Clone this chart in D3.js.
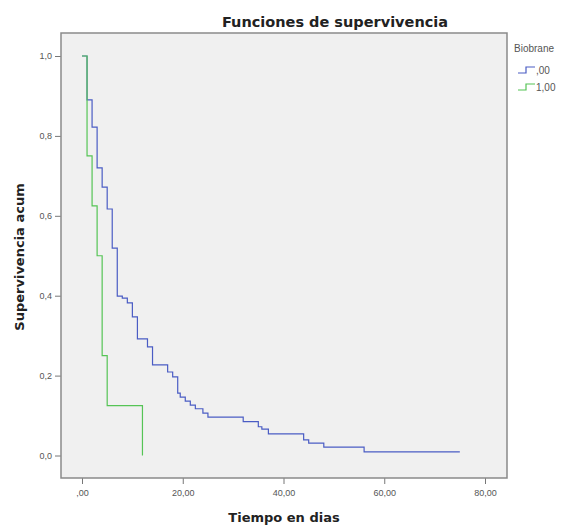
<!DOCTYPE html>
<html>
<head>
<meta charset="utf-8">
<script src="https://cdn.jsdelivr.net/npm/d3@7"></script>
<style>
  body { margin: 0; background: #fff; }
  svg { display: block; font-family: "Liberation Sans", Arial, sans-serif; }
  .tick text { fill: #555; font-size: 9px; }
  .tick line { stroke: #777; }
  .title { font-family: "DejaVu Sans", Verdana, sans-serif; font-weight: bold; fill: #222; }
</style>
</head>
<body>
<div id="chart"></div>
<script>
// Kaplan-Meier curves
const groups = [",00", "1,00"];
const colors = ["#4a5cc4", "#55c455"];

const blueTimes = [0, 1, 2, 3, 4, 5, 6, 7, 8, 9, 10, 11, 13, 14, 17, 18, 19, 19.5, 20.5, 21.5, 22.5, 24, 25, 32, 35, 35.7, 37, 44, 45, 48, 56, 75];
const blueSurv  = [1, 0.890, 0.822, 0.720, 0.672, 0.617, 0.519, 0.399, 0.394, 0.382, 0.347, 0.292, 0.272, 0.227, 0.209, 0.197, 0.156, 0.146, 0.136, 0.126, 0.117, 0.106, 0.096, 0.085, 0.072, 0.066, 0.054, 0.039, 0.031, 0.021, 0.009, 0.009];

const greenTimes = [0, 1, 2, 3, 4, 5, 12];
const greenSurv  = [1, 0.75, 0.625, 0.5, 0.25, 0.125, 0];

const xTicks = [0, 20, 40, 60, 80];
const xTickLabels = [",00", "20,00", "40,00", "60,00", "80,00"];
const yTicks = [0, 0.2, 0.4, 0.6, 0.8, 1];
const yTickLabels = ["0,0", "0,2", "0,4", "0,6", "0,8", "1,0"];

const W = 572, H = 526;
const frame = { left: 61, right: 507, top: 33, bottom: 478 };

const svg = d3.select("#chart").append("svg").attr("width", W).attr("height", H);

const x = d3.scaleLinear().domain([0, 80]).range([82, 485]);
const y = d3.scaleLinear().domain([0, 1]).range([455.5, 56]);

// plot background
svg.append("rect")
    .attr("x", frame.left).attr("y", frame.top)
    .attr("width", frame.right - frame.left).attr("height", frame.bottom - frame.top)
    .attr("fill", "#f0f0f0");

// axes (ticks only, frame drawn after)
svg.append("g")
    .attr("transform", `translate(0,${frame.bottom})`)
    .call(d3.axisBottom(x).tickValues(xTicks).tickSize(6).tickPadding(6)
        .tickFormat((d, i) => xTickLabels[i]))
    .call(g => g.select(".domain").remove());

svg.append("g")
    .attr("transform", `translate(${frame.left},0)`)
    .call(d3.axisLeft(y).tickValues(yTicks).tickSize(6).tickPadding(3)
        .tickFormat((d, i) => yTickLabels[i]))
    .call(g => g.select(".domain").remove());

svg.append("rect")
    .attr("x", frame.left).attr("y", frame.top)
    .attr("width", frame.right - frame.left).attr("height", frame.bottom - frame.top)
    .attr("fill", "none").attr("stroke", "#8a8a8a").attr("stroke-width", 1.5);

// survival curves
const line = d3.line()
    .x(d => x(d[0]))
    .y(d => y(d[1]))
    .curve(d3.curveStepAfter);

const series = [
    d3.zip(blueTimes, blueSurv),
    d3.zip(greenTimes, greenSurv)
];

svg.append("g").selectAll("path")
    .data(series)
    .join("path")
    .attr("d", line)
    .attr("fill", "none")
    .attr("stroke", (d, i) => colors[i])
    .attr("stroke-width", 1.2);

// titles
svg.append("text").attr("class", "title")
    .attr("x", 335).attr("y", 27)
    .attr("text-anchor", "middle")
    .attr("font-size", 14.5)
    .text("Funciones de supervivencia");

svg.append("text").attr("class", "title")
    .attr("x", 284).attr("y", 522)
    .attr("text-anchor", "middle")
    .attr("font-size", 13)
    .text("Tiempo en dias");

svg.append("text").attr("class", "title")
    .attr("transform", "translate(24,257) rotate(-90)")
    .attr("text-anchor", "middle")
    .attr("font-size", 13)
    .text("Supervivencia acum");

// legend
const legend = svg.append("g").attr("transform", "translate(514,0)");
legend.append("text")
    .attr("x", 0).attr("y", 52)
    .attr("font-size", 10).attr("fill", "#555")
    .text("Biobrane");

groups.forEach((g, i) => {
    const cy = 70 + i * 17;
    legend.append("path")
        .attr("d", `M4,${cy + 3}H12V${cy - 3}H21`)
        .attr("fill", "none")
        .attr("stroke", colors[i])
        .attr("stroke-width", 1.2);
    legend.append("text")
        .attr("x", 22).attr("y", cy + 4)
        .attr("font-size", 10).attr("fill", "#555")
        .text(g);
});
</script>
</body>
</html>
